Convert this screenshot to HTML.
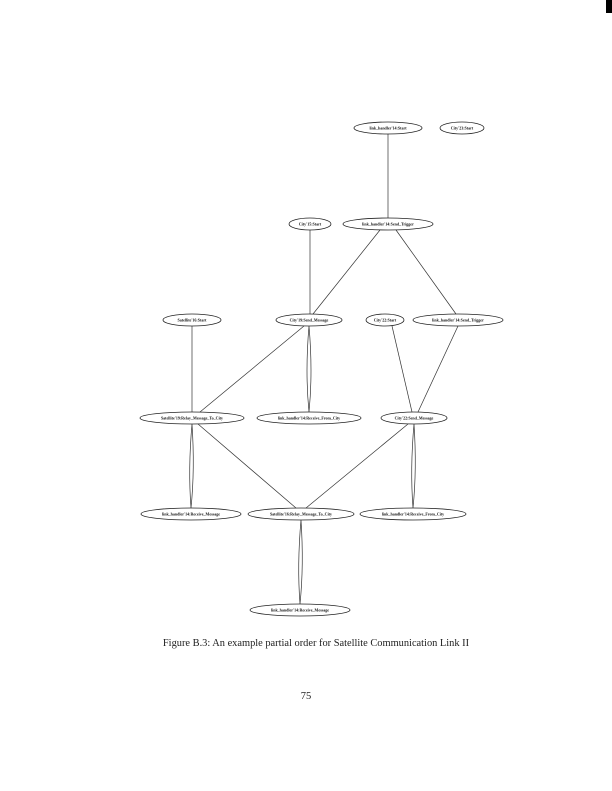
<!DOCTYPE html>
<html><head><meta charset="utf-8"><style>
html,body{margin:0;padding:0;background:#fff;}
body{width:612px;height:791px;position:relative;overflow:hidden;}
svg{position:absolute;left:0;top:0;}
.cap{position:absolute;top:638px;left:10px;width:612px;text-align:center;font-family:"Liberation Serif",serif;font-size:10.4px;color:#222;}
.pg{position:absolute;top:691px;left:0;width:612px;text-align:center;font-family:"Liberation Serif",serif;font-size:10.5px;color:#222;}
</style></head><body>
<div style="position:absolute;left:606px;top:0;width:6px;height:13px;background:#000"></div>
<svg width="612" height="791" viewBox="0 0 612 791" font-family="Liberation Serif, serif" font-size="4" font-weight="bold" text-anchor="middle">
<g stroke="#333" stroke-width="0.7" fill="none">
<line x1="388" y1="134" x2="388" y2="218"/>
<line x1="380" y1="230" x2="313" y2="314"/>
<line x1="396" y1="230" x2="456" y2="314"/>
<line x1="310" y1="230" x2="310" y2="314"/>
<line x1="192" y1="326" x2="192" y2="412"/>
<line x1="304" y1="326" x2="200" y2="412"/>
<line x1="392" y1="326" x2="412" y2="412"/>
<line x1="458" y1="326" x2="418" y2="412"/>
<line x1="198" y1="424" x2="296" y2="508"/>
<line x1="408" y1="424" x2="306" y2="508"/>
<path d="M309 326 Q305 372 309 412 Q313 372 309 326Z"/>
<path d="M192 424 Q188 469 191 508 Q195 469 192 424Z"/>
<path d="M414 424 Q410 469 413 508 Q417 469 414 424Z"/>
<path d="M301 520 Q297 565 300 604 Q304 565 301 520Z"/>
</g>
<g stroke="#222" stroke-width="0.8" fill="#fff">
<ellipse cx="388" cy="128" rx="34" ry="6"/>
<ellipse cx="462" cy="128" rx="22" ry="6"/>
<ellipse cx="310" cy="224" rx="21" ry="6"/>
<ellipse cx="388" cy="224" rx="45" ry="6"/>
<ellipse cx="192" cy="320" rx="29" ry="6"/>
<ellipse cx="309" cy="320" rx="33" ry="6"/>
<ellipse cx="385" cy="320" rx="19" ry="6"/>
<ellipse cx="458" cy="320" rx="45" ry="6"/>
<ellipse cx="192" cy="418" rx="52" ry="6"/>
<ellipse cx="309" cy="418" rx="52" ry="6"/>
<ellipse cx="414" cy="418" rx="33" ry="6"/>
<ellipse cx="191" cy="514" rx="50" ry="6"/>
<ellipse cx="301" cy="514" rx="53" ry="6"/>
<ellipse cx="413" cy="514" rx="53" ry="6"/>
<ellipse cx="300" cy="610" rx="50" ry="6"/>
</g>
<g fill="#111">
<text x="388" y="129.5">link_handler'14:Start</text>
<text x="462" y="129.5">City'23:Start</text>
<text x="310" y="225.5">City'15:Start</text>
<text x="388" y="225.5">link_handler'14:Send_Trigger</text>
<text x="192" y="321.5">Satellite'16:Start</text>
<text x="309" y="321.5">City'19:Send_Message</text>
<text x="385" y="321.5">City'22:Start</text>
<text x="458" y="321.5">link_handler'14:Send_Trigger</text>
<text x="192" y="419.5">Satellite'19:Relay_Message_To_City</text>
<text x="309" y="419.5">link_handler'14:Receive_From_City</text>
<text x="414" y="419.5">City'22:Send_Message</text>
<text x="191" y="515.5">link_handler'14:Receive_Message</text>
<text x="301" y="515.5">Satellite'16:Relay_Message_To_City</text>
<text x="413" y="515.5">link_handler'14:Receive_From_City</text>
<text x="300" y="611.5">link_handler'14:Receive_Message</text>
</g>
</svg>
<div class="cap">Figure B.3: An example partial order for Satellite Communication Link II</div>
<div class="pg">75</div>
</body></html>
